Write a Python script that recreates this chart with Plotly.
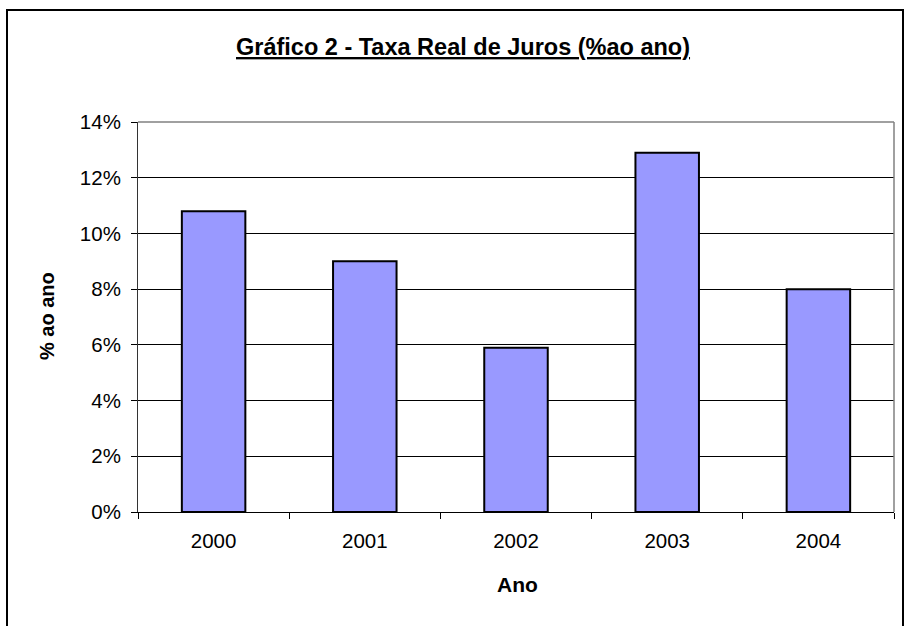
import plotly.graph_objects as go

anos = ["2000", "2001", "2002", "2003", "2004"]
taxa = [10.8, 9.0, 5.9, 12.9, 8.0]
y_ticks = [0, 2, 4, 6, 8, 10, 12, 14]
y_labels = [f"{v}%" for v in y_ticks]

titulo = "Gráfico 2 - Taxa Real de Juros (%ao ano)"
x_titulo = "Ano"
y_titulo = "% ao ano"

FONT = "Liberation Sans, Arial, sans-serif"

fig = go.Figure(go.Bar(
    x=anos, y=taxa,
    marker=dict(color="#9999FF", line=dict(color="black", width=2)),
    width=0.42,
))

fig.update_layout(
    width=905, height=626,
    margin=dict(l=138, r=11, t=122, b=114),
    paper_bgcolor="white", plot_bgcolor="white",
    showlegend=False,
    font=dict(family=FONT, color="black", size=20),
)
fig.update_xaxes(
    showline=True, linecolor="black", linewidth=1,
    ticks="outside", tickson="boundaries", ticklen=6, tickcolor="black",
    showgrid=False, tickfont=dict(size=20.5), ticklabelstandoff=10,
)
fig.update_yaxes(
    range=[0, 14], tickvals=y_ticks, ticktext=y_labels,
    showline=True, linecolor="#333333", linewidth=1,
    ticks="outside", ticklen=6, tickcolor="black",
    showgrid=True, gridcolor="black", gridwidth=1,
    tickfont=dict(size=20.5), ticklabelstandoff=6, zeroline=False,
)

# plot area top/right grey border
fig.add_shape(type="line", xref="paper", yref="paper", x0=0, x1=1, y0=1, y1=1,
              line=dict(color="#808080", width=1.5))
fig.add_shape(type="line", xref="paper", yref="paper", x0=1, x1=1, y0=0, y1=1,
              line=dict(color="#808080", width=1.5))

# outer chart border
fig.add_shape(type="rect", xref="paper", yref="paper",
              x0=(7 - 138) / 756, x1=(903 - 138) / 756,
              y0=(512 - 640) / 390, y1=(512 - 10) / 390,
              line=dict(color="black", width=2), layer="below")

fig.add_annotation(text=f"<b><u>{titulo}</u></b>", xref="paper", yref="paper",
                   x=(463 - 138) / 756, y=(512 - 47) / 390, showarrow=False,
                   xanchor="center", yanchor="middle", font=dict(size=23.5))
fig.add_annotation(text=f"<b>{y_titulo}</b>", xref="paper", yref="paper",
                   x=(47 - 138) / 756, y=(512 - 316) / 390, textangle=-90,
                   showarrow=False, xanchor="center", yanchor="middle",
                   font=dict(size=20))
fig.add_annotation(text=f"<b>{x_titulo}</b>", xref="paper", yref="paper",
                   x=(517 - 138) / 756, y=(512 - 584) / 390,
                   showarrow=False, xanchor="center", yanchor="middle",
                   font=dict(size=21))

fig.write_html("out.html")
